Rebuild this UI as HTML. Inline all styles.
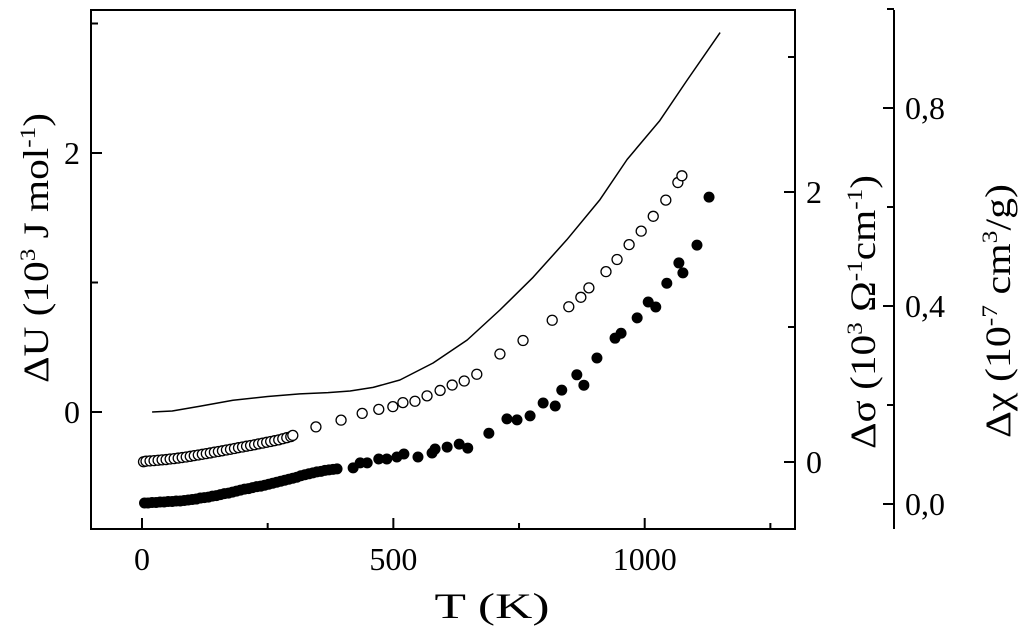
<!DOCTYPE html>
<html><head><meta charset="utf-8"><style>
html,body{margin:0;padding:0;background:#fff;}
svg{display:block;font-family:"Liberation Serif",serif;}
</style></head><body>
<svg id="chart" width="1024" height="635" viewBox="0 0 1024 635" xmlns="http://www.w3.org/2000/svg">
<g id="axes"></g>
<g id="marks"></g>
<text x="492" y="618" font-size="36" text-anchor="middle" textLength="115" lengthAdjust="spacingAndGlyphs">T (K)</text>
<text transform="translate(48,248) rotate(-90)" font-size="36" text-anchor="middle" textLength="270" lengthAdjust="spacingAndGlyphs">ΔU (10<tspan dy="-13" font-size="22">3</tspan><tspan dy="13"> J mol</tspan><tspan dy="-13" font-size="22">-1</tspan><tspan dy="13">)</tspan></text>
<text transform="translate(875,312) rotate(-90)" font-size="36" text-anchor="middle" textLength="274" lengthAdjust="spacingAndGlyphs">Δσ (10<tspan dy="-13" font-size="22">3</tspan><tspan dy="13"> Ω</tspan><tspan dy="-13" font-size="22">-1</tspan><tspan dy="13">cm</tspan><tspan dy="-13" font-size="22">-1</tspan><tspan dy="13">)</tspan></text>
<text transform="translate(1010,311) rotate(-90)" font-size="36" text-anchor="middle" textLength="254" lengthAdjust="spacingAndGlyphs">Δχ (10<tspan dy="-13" font-size="22">-7</tspan><tspan dy="13"> cm</tspan><tspan dy="-13" font-size="22">3</tspan><tspan dy="13">/g)</tspan></text>
</svg>
<script>
// Line series (ΔU, left axis)
const lineT = [20,60,115,181,250,314,370,414,460,513,579,647,712,778,845,911,965,1030,1084,1150];
const lineU = [0,0.008,0.045,0.09,0.12,0.14,0.15,0.162,0.19,0.247,0.378,0.556,0.788,1.04,1.33,1.64,1.95,2.25,2.56,2.93];
// Open circles (Δσ, first right axis)
const openT = [3,8,16,24,32,40,48,56,64,72,80,88,96,104,112,120,128,136,144,152,160,168,176,184,192,200,208,216,224,232,240,248,256,264,272,280,288,296,300,
 346,396,438,471,499,519,543,567,593,617,641,666,712,758,816,849,873,889,923,945,969,993,1017,1042,1066,1074];
const openS = [0.002,0.006,0.008,0.010,0.013,0.016,0.018,0.022,0.025,0.029,0.033,0.037,0.042,0.047,0.052,0.057,0.062,0.067,0.073,0.078,0.083,0.089,0.094,0.10,0.106,0.111,0.117,0.122,0.128,0.134,0.140,0.146,0.152,0.158,0.164,0.172,0.180,0.188,0.197,
 0.26,0.31,0.36,0.39,0.41,0.44,0.45,0.49,0.53,0.57,0.60,0.65,0.80,0.90,1.05,1.15,1.22,1.29,1.41,1.50,1.61,1.71,1.82,1.94,2.07,2.12];
// Filled circles (Δχ, second right axis)
const fillT = [5,12,20,28,36,44,52,60,68,76,84,92,100,108,116,124,132,140,148,156,164,172,180,188,196,204,212,220,228,236,244,252,260,268,276,284,292,300,308,316,324,332,340,348,356,364,372,380,388,
 420,434,448,471,487,507,521,549,577,583,607,631,648,690,726,746,772,798,822,835,865,879,905,941,953,985,1007,1022,1044,1068,1076,1104,1128];
const fillC = [0.002,0.002,0.003,0.003,0.004,0.004,0.005,0.005,0.006,0.006,0.007,0.008,0.009,0.010,0.012,0.013,0.014,0.016,0.017,0.019,0.021,0.022,0.024,0.026,0.028,0.030,0.031,0.033,0.035,0.036,0.038,0.040,0.042,0.044,0.046,0.048,0.050,0.052,0.054,0.057,0.059,0.061,0.063,0.065,0.066,0.068,0.069,0.070,0.071,
 0.073,0.083,0.083,0.091,0.091,0.095,0.101,0.095,0.103,0.111,0.115,0.121,0.113,0.143,0.172,0.170,0.178,0.204,0.198,0.230,0.261,0.240,0.295,0.335,0.345,0.376,0.408,0.398,0.446,0.487,0.467,0.523,0.620];
// Tick labels
const xTicks = [0,500,1000];
const xMinor = [250,750,1250];
const uTicks = [0,2];
const uMinor = [1,3];
const sTicks = [0,2];
const sMinor = [1,3];
const cTicks = ["0,0","0,4","0,8"];
const cTickVals = [0,0.4,0.8];
const cMinor = [0.2,0.6,1.0];

const NS = "http://www.w3.org/2000/svg";
const L=91,R=795,T=10,B=529,CX=894;
const xs = t => 142 + 0.5027*t;
const yU = v => 412 - 129.5*v;
const yS = v => 462 - 135*v;
const yC = v => 504 - 495*v;
const axes=document.getElementById('axes'), marks=document.getElementById('marks');
function mk(tag, parent, attrs){const e=document.createElementNS(NS,tag);for(const k in attrs)e.setAttribute(k,attrs[k]);parent.appendChild(e);return e;}

let e = mk('rect',axes,{x:L,y:T,width:R-L,height:B-T,fill:'none',stroke:'#000','stroke-width':2});


e = mk('line',axes,{x1:CX,y1:T,x2:CX,y2:B,stroke:'#000','stroke-width':2});



xTicks.forEach(v=>{
  const x=xs(v);
  let t=mk('line',axes,{x1:x,y1:B,x2:x,y2:B-11,stroke:'#000','stroke-width':2});
  
  
  let l=mk('text',axes,{x:x,y:570,'font-size':32,'text-anchor':'middle'});
  l.textContent=v;
  
  
});
xMinor.forEach(v=>{
  let t=mk('line',axes,{x1:xs(v),y1:B,x2:xs(v),y2:B-6,stroke:'#000','stroke-width':2});
  
  
});
uTicks.forEach(v=>{
  const y=yU(v);
  let t=mk('line',axes,{x1:L,y1:y,x2:L+11,y2:y,stroke:'#000','stroke-width':2});
  
  
  let l=mk('text',axes,{x:80,y:y+11,'font-size':32,'text-anchor':'end'});
  l.textContent=v;
  
  
});
uMinor.forEach(v=>{
  let t=mk('line',axes,{x1:L,y1:yU(v),x2:L+7,y2:yU(v),stroke:'#000','stroke-width':2});
  
  
});
sTicks.forEach(v=>{
  const y=yS(v);
  let t=mk('line',axes,{x1:R,y1:y,x2:R-11,y2:y,stroke:'#000','stroke-width':2});
  
  
  let l=mk('text',axes,{x:806,y:y+11,'font-size':32,'text-anchor':'start'});
  l.textContent=v;
  
  
});
sMinor.forEach(v=>{
  let t=mk('line',axes,{x1:R,y1:yS(v),x2:R-7,y2:yS(v),stroke:'#000','stroke-width':2});
  
  
});
cTickVals.forEach((v,i)=>{
  const y=yC(v);
  let t=mk('line',axes,{x1:CX,y1:y,x2:CX-11,y2:y,stroke:'#000','stroke-width':2});
  
  
  let l=mk('text',axes,{x:905,y:y+11,'font-size':32,'text-anchor':'start'});
  l.textContent=cTicks[i];
  
  
});
cMinor.forEach(v=>{
  let t=mk('line',axes,{x1:CX,y1:yC(v),x2:CX-7,y2:yC(v),stroke:'#000','stroke-width':2});
  
  
});

// line
let d = lineT.map((t,i)=>(i?'L':'M')+xs(t).toFixed(1)+','+yU(lineU[i]).toFixed(1)).join(' ');
let p = mk('path',marks,{d:d,fill:'none',stroke:'#000','stroke-width':1.5,'stroke-linejoin':'round'});



fillT.forEach((t,i)=>{
  let c=mk('circle',marks,{cx:xs(t),cy:yC(fillC[i]),r:5.5,fill:'#000'});
  
  
});
openT.forEach((t,i)=>{
  let c=mk('circle',marks,{cx:xs(t),cy:yS(openS[i]),r:5,fill:'#fff',stroke:'#000','stroke-width':1.3});
  
  
});
</script>
</body></html>
